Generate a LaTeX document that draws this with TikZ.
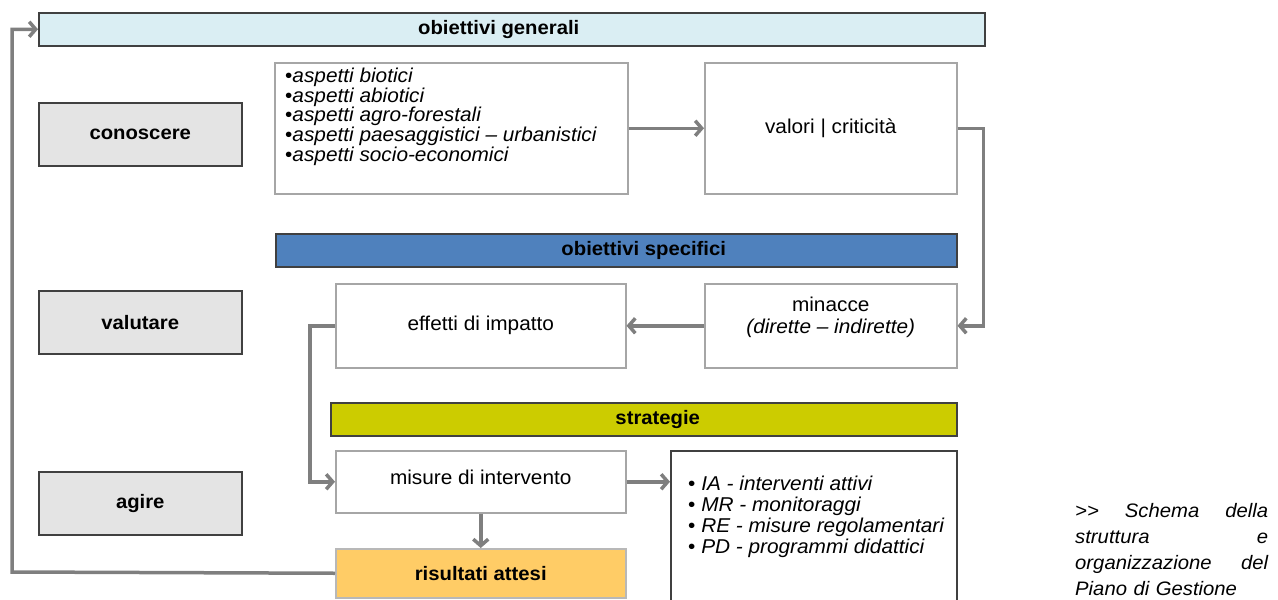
\documentclass[tikz,border=0pt]{standalone}
\usepackage{fontspec}
\setmainfont{Liberation Sans}[FakeStretch=1.04]
\usetikzlibrary{arrows.meta}
\definecolor{genfill}{HTML}{DAEEF3}
\definecolor{grayfill}{HTML}{E4E4E4}
\definecolor{darkline}{HTML}{404040}
\definecolor{lightline}{HTML}{A6A6A6}
\definecolor{specfill}{HTML}{4F81BD}
\definecolor{strfill}{HTML}{CCCC00}
\definecolor{risfill}{HTML}{FFCC66}
\definecolor{arrgray}{HTML}{7F7F7F}
\begin{document}
\begin{tikzpicture}[x=1pt,y=-1pt,
  box/.style={draw=lightline, line width=1.5pt, fill=white, inner sep=0pt, anchor=north west,
              align=center, font=\fontsize{20}{22}\selectfont},
  dbox/.style={box, draw=darkline},
  headbox/.style={dbox, font=\fontsize{19.5}{22}\selectfont\bfseries},
  arr/.style={draw=arrgray, line width=3.5pt, -{Straight Barb[length=6.5pt,width=15pt]}},
]
\useasboundingbox (0,0) rectangle (1278,600);
\clip (0,0) rectangle (1278,600);

% header bars
\node[headbox, fill=genfill, minimum width=946pt, minimum height=33pt] (gen) at (38,12) {obiettivi generali\hspace*{26pt}};
\node[headbox, fill=specfill, minimum width=681pt, minimum height=33pt] (spec) at (275,233) {\hspace*{55pt}obiettivi specifici};
\node[headbox, fill=strfill, minimum width=626pt, minimum height=33pt] (str) at (330,402) {\hspace*{28pt}strategie};

% phase boxes
\node[headbox, fill=grayfill, minimum width=203pt, minimum height=63pt] (con) at (38,102) {conoscere};
\node[headbox, fill=grayfill, minimum width=203pt, minimum height=63pt] (valu) at (38,290) {valutare};
\node[headbox, fill=grayfill, minimum width=203pt, minimum height=63pt] (agi) at (38,471) {agire};

% content boxes
\node[box, minimum width=353pt, minimum height=131pt] (asp) at (274,62) {};
\node[anchor=north west, inner sep=0pt, align=left, font=\fontsize{20}{18.6}\selectfont] (asptext) at (285,68)
  {•\textit{aspetti biotici}\\
   •\textit{aspetti abiotici}\\
   •\textit{aspetti agro-forestali}\\
   •\textit{aspetti paesaggistici – urbanistici}\\
   •\textit{aspetti socio-economici}};
\node[box, minimum width=252pt, minimum height=131pt] (val) at (704,62) {valori | criticità};
\node[box, minimum width=290pt, minimum height=84pt] (eff) at (335,283) {effetti di impatto};
\node[box, minimum width=252pt, minimum height=84pt] (min) at (704,283) {minacce\\\textit{(dirette – indirette)}\\[0pt]\mbox{}};
\node[box, minimum width=290pt, minimum height=62pt] (mis) at (335,450) {misure di intervento\\[-12pt]\mbox{}};
\node[dbox, minimum width=286pt, minimum height=180pt] (ia) at (670,450) {};
\node[anchor=north west, inner sep=0pt, align=left, font=\fontsize{20}{21}\selectfont] (iatext) at (688,476)
  {• \textit{IA - interventi attivi}\\
   • \textit{MR - monitoraggi}\\
   • \textit{RE - misure regolamentari}\\
   • \textit{PD - programmi didattici}};
\node[box, draw=lightline!80, fill=risfill, minimum width=290pt, minimum height=49pt,
      font=\fontsize{19.5}{22}\selectfont\bfseries] (ris) at (335,548) {risultati attesi};

% caption
\node[anchor=north west, inner sep=0pt, text width=193pt, align=left,
      font=\fontsize{19.5}{26}\selectfont\itshape] (cap) at (1075,503)
  {>\kern0pt>\hfill Schema\hfill della\\
   struttura\hfill e\\
   organizzazione\hfill del\\
   Piano di Gestione};

% connectors
\coordinate (loop) at (12,572);
\draw[arr] (asp.east) -- (val.west);
\draw[arr] (val.east) -- ++(26,0) |- (min.east);
\draw[arr] (min.west) -- (eff.east);
\draw[arr] (eff.west) -- ++(-25,0) |- (mis.west);
\draw[arr] (mis.east) -- (ia.west |- mis.east);
\draw[arr] (mis.south) -- (ris.north);
\draw[arr] (ris.west) -- (loop) |- (gen.west);
\end{tikzpicture}
\end{document}
